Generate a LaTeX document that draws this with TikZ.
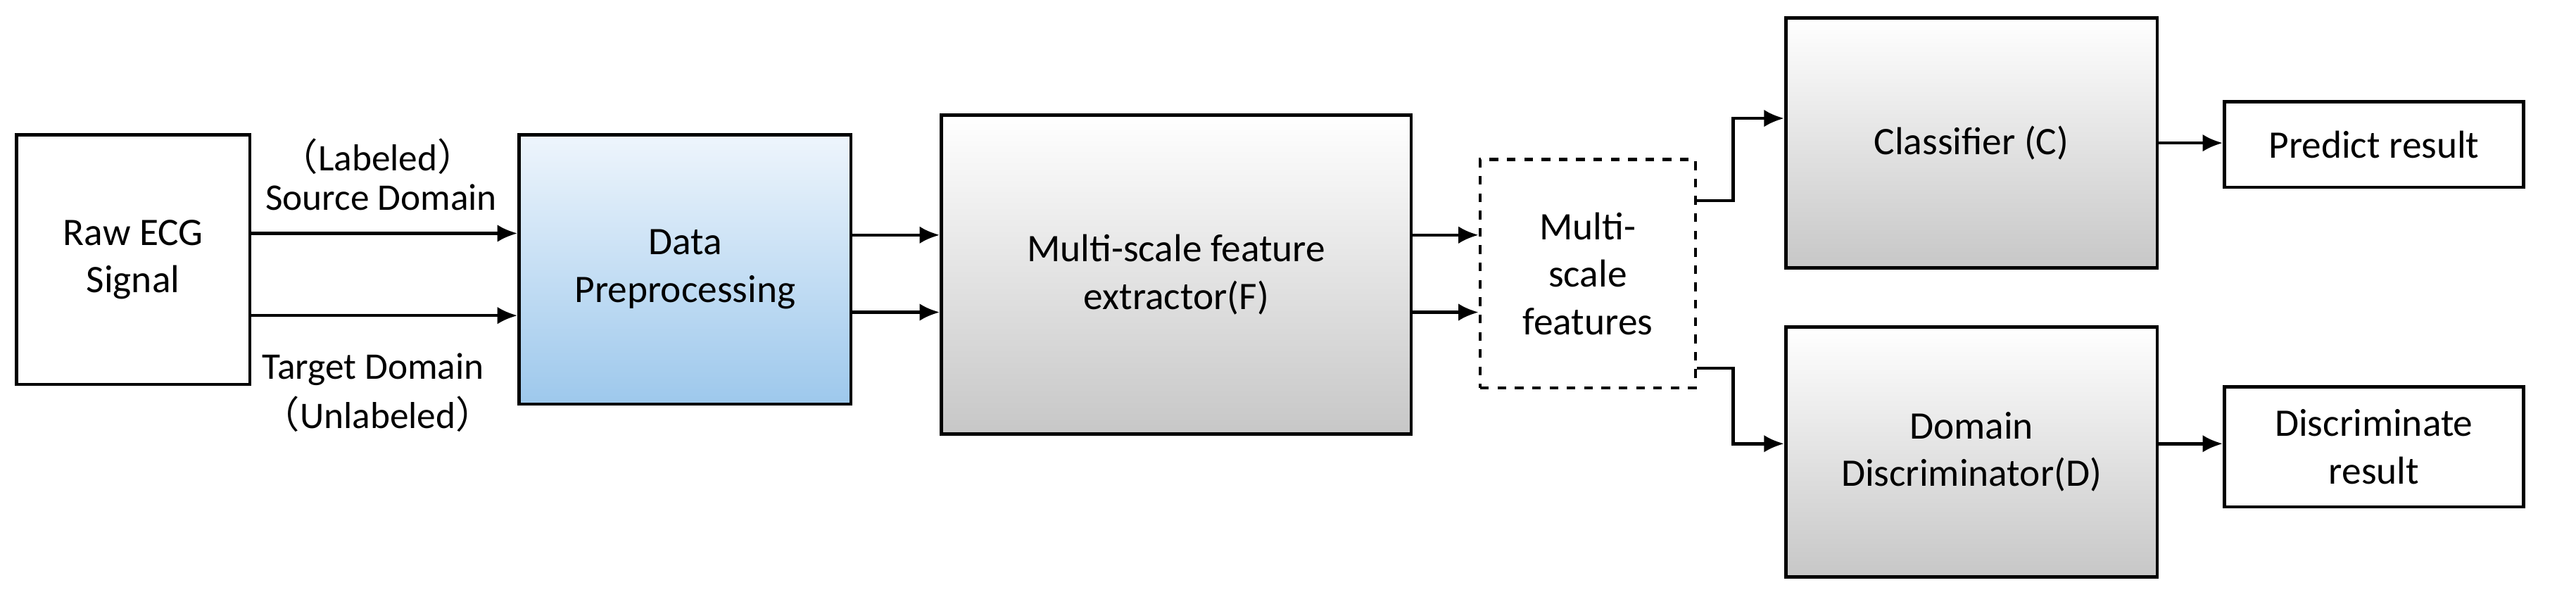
\documentclass[tikz,border=0pt]{standalone}
\usepackage{fontspec}
\setmainfont{Carlito}
\newfontfamily\cjk{Noto Sans CJK SC}
\usetikzlibrary{arrows.meta}
\definecolor{dpbot}{HTML}{9DC8EC}
\definecolor{dptop}{HTML}{EEF5FC}
\begin{document}
\begin{tikzpicture}[x=0.02cm,y=-0.02cm,
  box/.style={draw,line width=1.1pt,inner sep=0pt,align=center,font=\fontsize{13.5}{16.5}\selectfont},
  gray/.style={box,top color=white,bottom color=black!22},
  arr/.style={line width=1.1pt,-{Latex[length=7pt,width=6pt]}},
  lab/.style={font=\fontsize{13}{15}\selectfont}]
\useasboundingbox (0,0) rectangle (1568,363);
\node[box,minimum width=142*0.02cm,minimum height=152*0.02cm] (raw) at (81,158) {Raw ECG\\Signal};
\node[box,top color=dptop,bottom color=dpbot,minimum width=202*0.02cm,minimum height=164*0.02cm] (dp) at (417,164) {Data\\Preprocessing};
\node[gray,minimum width=286*0.02cm,minimum height=194*0.02cm] (fe) at (716,167) {Multi-scale feature\\extractor(F)};
\node[box,dashed,minimum width=131*0.02cm,minimum height=139*0.02cm] (mf) at (966.5,166.5) {Multi-\\scale\\features};
\node[gray,minimum width=226*0.02cm,minimum height=152*0.02cm] (cl) at (1200,87) {Classifier (C)};
\node[gray,minimum width=226*0.02cm,minimum height=152*0.02cm] (dd) at (1200,275) {Domain\\Discriminator(D)};
\node[box,minimum width=182*0.02cm,minimum height=52*0.02cm] (pr) at (1445,88) {Predict result};
\node[box,minimum width=182*0.02cm,minimum height=73*0.02cm] (dr) at (1445,272) {Discriminate\\result};
\draw[arr] (raw.east|-0,142) -- (dp.west|-0,142);
\draw[arr] (raw.east|-0,192) -- (dp.west|-0,192);
\node[lab] (l1) at (230,95) {{\cjk （}Labeled{\cjk ）}};
\node[lab] (l2) at (232,120) {Source Domain};
\node[lab] (l3) at (227,225) {Target Domain};
\node[lab] (l4) at (230,252) {{\cjk （}Unlabeled{\cjk ）}};
\draw[arr] (dp.east|-0,143) -- (fe.west|-0,143);
\draw[arr] (dp.east|-0,190) -- (fe.west|-0,190);
\draw[arr] (fe.east|-0,143) -- (mf.west|-0,143);
\draw[arr] (fe.east|-0,190) -- (mf.west|-0,190);
\draw[arr] (mf.east|-0,122) -- (1055,122) -- (1055,72) -- (cl.west|-0,72);
\draw[arr] (mf.east|-0,224) -- (1055,224) -- (1055,270) -- (dd.west|-0,270);
\draw[arr] (cl.east|-0,87) -- (pr.west|-0,87);
\draw[arr] (dd.east|-0,270) -- (dr.west|-0,270);
\end{tikzpicture}
\end{document}
